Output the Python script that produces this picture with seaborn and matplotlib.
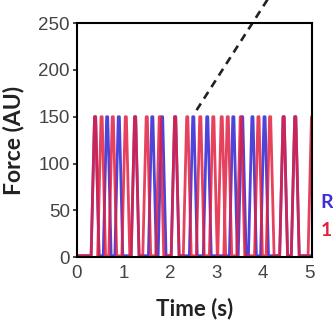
import numpy as np
import pandas as pd
import matplotlib.pyplot as plt
import seaborn as sns

# spike times (s), peak force 150 AU
red_times = [0.39, 0.53, 0.77, 1.05, 1.25, 1.50, 1.78, 2.11, 2.37, 2.65, 2.93,
             3.11, 3.24, 3.52, 3.90, 4.15, 4.44, 4.69, 5.05]
blue_times = [0.39, 0.65, 0.90, 1.25, 1.62, 1.83, 2.11, 2.50, 2.80, 3.36, 3.55,
              3.77, 4.03, 4.44, 4.69]
peak = 150
x_ticks = [0, 1, 2, 3, 4, 5]
y_ticks = [0, 50, 100, 150, 200, 250]
dash_x = [2.57, 4.35]
dash_y = [157, 295]


def waveform(times, half=0.085, top=0.012):
    xs, ys = [0.0], [1.5]
    for t in times:
        xs += [t - half, t - top, t + top, t + half]
        ys += [1.5, peak, peak, 1.5]
    xs.append(5.2)
    ys.append(1.5)
    return pd.DataFrame({'t': xs, 'force': ys})


sns.set_style('white')
fig = plt.figure(figsize=(3.33, 3.21), dpi=100)
ax = fig.add_axes([0.231, 0.199, 0.706, 0.729])

sns.lineplot(data=waveform(blue_times), x='t', y='force', sort=False,
             estimator=None, color='#3b2fd6', lw=2.0, alpha=0.9, ax=ax)
sns.lineplot(data=waveform(red_times), x='t', y='force', sort=False,
             estimator=None, color='#e22040', lw=2.0, alpha=0.85, ax=ax)

ax.plot(dash_x, dash_y, ls=(0, (3, 2.2)), color='#222222', lw=1.9, clip_on=False)

ax.set_xlim(0, 5.05)
ax.set_ylim(0, 250)
ax.set_xticks(x_ticks)
ax.set_yticks(y_ticks)
for lab in ax.get_xticklabels() + ax.get_yticklabels():
    lab.set_fontfamily('Liberation Sans')
    lab.set_fontsize(13.5)
    lab.set_color('#444444')
ax.tick_params(axis='y', length=3, width=1.2, pad=2, left=True, direction='out')
ax.tick_params(axis='x', length=0, pad=6)

for s in ax.spines.values():
    s.set_color('black')
    s.set_linewidth(1.5)

ax.set_xlabel('Time (s)', fontfamily='Lato', fontweight='bold', fontsize=16,
              color='#222222', labelpad=11)
ax.set_ylabel('Force (AU)', fontfamily='Lato', fontweight='bold', fontsize=16.5,
              color='#222222', labelpad=10)

ax.text(5.24, 58, 'R', color='#3b2fd6', fontfamily='Lato', fontweight='bold',
        fontsize=14, va='center', ha='left', clip_on=False)
ax.text(5.24, 28, '1', color='#e22040', fontfamily='Lato', fontweight='bold',
        fontsize=14, va='center', ha='left', clip_on=False)

plt.savefig('out.png', dpi=100)
